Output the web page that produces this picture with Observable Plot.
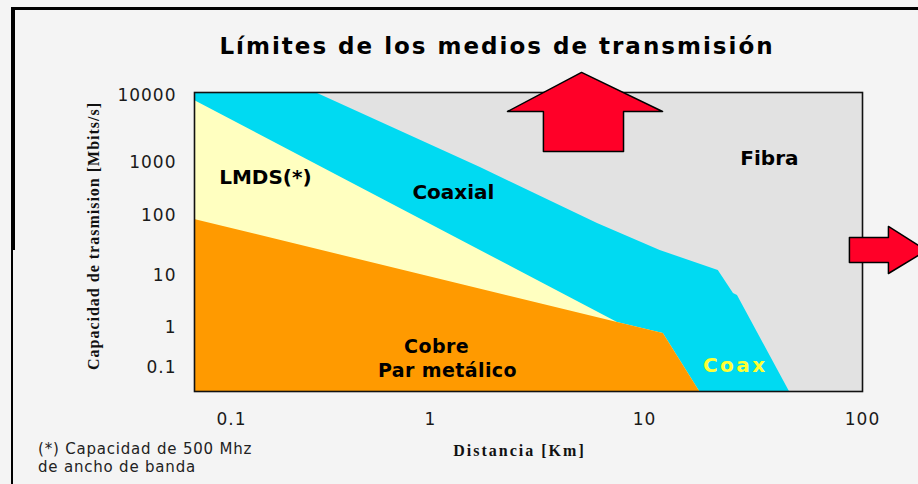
<!DOCTYPE html>
<html>
<head>
<meta charset="utf-8">
<script src="https://cdn.jsdelivr.net/npm/d3@7"></script>
<script src="https://cdn.jsdelivr.net/npm/@observablehq/plot@0.6"></script>
<style>
html,body{margin:0;padding:0;}
body{width:918px;height:484px;background:#f4f4f4;position:relative;overflow:hidden;font-family:"DejaVu Sans",sans-serif;}
#chart{position:absolute;left:0;top:0;}
#frameTop{position:absolute;left:11px;top:7px;right:0;height:3px;background:#000;}
#frameLeft{position:absolute;left:11px;top:7px;width:2px;bottom:0;background:#000;}
#frameLeftThick{position:absolute;left:11px;top:7px;width:4px;height:243px;background:#000;}
#title{position:absolute;left:0;width:994px;top:35px;text-align:center;font-weight:bold;font-size:23px;line-height:23px;letter-spacing:2px;color:#000;font-family:"DejaVu Sans",sans-serif;}
#note{position:absolute;left:38px;top:440px;font-size:15px;line-height:18px;letter-spacing:0.8px;color:#222;font-family:"DejaVu Sans",sans-serif;}
</style>
</head>
<body>
<div id="chart"></div>
<div id="frameTop"></div>
<div id="frameLeft"></div>
<div id="frameLeftThick"></div>
<div id="title">Límites de los medios de transmisión</div>
<div id="note">(*) Capacidad de 500 Mhz<br>de ancho de banda</div>
<script>
// ---- Data (distance in km, capacity in Mbit/s) ----
const xTicks = [0.1, 1, 10, 100];
const xTickLabels = ["0.1", "1", "10", "100"];
const yTicks = [0.1, 1, 10, 100, 1000, 10000];
const yTickLabels = ["0.1", "1", "10", "100", "1000", "10000"];

// Upper limit of coaxial cable
const coaxDist = [0.065, 0.264, 1.71, 6.03, 11.8, 21.8, 25.6, 26.7, 46.2];
const coaxCap  = [11100, 11100, 805, 73.6, 26.1, 12.1, 4.51, 4.12, 0.025];

// Upper limit of LMDS
const lmdsDist = [0.065, 7.48, 12.2, 17.9];
const lmdsCap  = [8410, 1.25, 0.708, 0.025];

// Upper limit of copper pair
const cobreDist = [0.065, 7.48, 12.2, 17.9];
const cobreCap  = [85.8, 1.25, 0.708, 0.025];

// Arrows (Fibra extends upward and to the right)
const upArrowDist = [5.08, 12.1, 7.98, 7.98, 3.37, 3.37, 2.29];
const upArrowCap  = [22300, 5770, 5770, 1460, 1460, 5770, 5770];
const rightArrowDist = [87.1, 131.5, 131.5, 196.7, 131.5, 131.5, 87.1];
const rightArrowCap  = [43.0, 43.0, 65.6, 26.1, 10.8, 16.5, 16.5];

// Region labels
const labelText = ["LMDS(*)", "Coaxial", "Fibra", "Cobre", "Par metálico", "Coax"];
const labelDist = [0.148, 1.28, 37.4, 1.067, 1.2, 26.1];
const labelCap  = [521, 272, 1147, 0.335, 0.084, 0.112];
const labelSize = [20, 20, 20, 19, 19, 20];
const labelColor = ["#000", "#000", "#000", "#000", "#000", "#ffff33"];

// ---- Scale calibration (reference uses unevenly spaced decades) ----
const xDomain = [0.065, 0.1, 1, 10, 100];
const xRange  = [194, 231, 430, 644, 862];
const yDomain = [0.025, 0.1, 1, 10, 100, 1000, 10000, 11100];
const yRange  = [391, 367, 327, 275, 215, 162, 95, 92];
const capFloor = yDomain[0];

const zip = (xs, ys) => xs.map((d, i) => ({d, c: ys[i]}));
const labels = labelText.map((t, i) => ({t, d: labelDist[i], c: labelCap[i], col: labelColor[i], s: labelSize[i]}));
const bigLabels = labels.filter(l => l.s === 20);
const smallLabels = labels.filter(l => l.s !== 20);

const chart = Plot.plot({
  width: 918,
  height: 484,
  marginLeft: 194,
  marginRight: 56,
  marginTop: 92,
  marginBottom: 93,
  style: {background: "transparent", fontFamily: "DejaVu Sans, sans-serif", fontSize: "17px", color: "#1a1a1a"},
  x: {type: "log", domain: xDomain, range: xRange, ticks: xTicks,
      tickFormat: d => xTickLabels[xTicks.indexOf(d)], tickSize: 0, tickPadding: 21, label: null},
  y: {type: "log", domain: yDomain, range: yRange, ticks: yTicks,
      tickFormat: d => yTickLabels[yTicks.indexOf(d)], tickSize: 0, tickPadding: 18, label: null},
  marks: [
    Plot.frame({fill: "#e2e2e2"}),
    Plot.areaY(zip(coaxDist, coaxCap), {x: "d", y1: () => capFloor, y2: "c", fill: "#00daf2", curve: "linear"}),
    Plot.areaY(zip(lmdsDist, lmdsCap), {x: "d", y1: () => capFloor, y2: "c", fill: "#ffffc0", curve: "linear"}),
    Plot.areaY(zip(cobreDist, cobreCap), {x: "d", y1: () => capFloor, y2: "c", fill: "#ff9a00", curve: "linear"}),
    Plot.frame({stroke: "#111", strokeWidth: 1.6}),
    Plot.line(zip(upArrowDist, upArrowCap), {x: "d", y: "c", fill: "#ff0028", stroke: "#000", strokeWidth: 1.5, curve: "linear-closed"}),
    Plot.line(zip(rightArrowDist, rightArrowCap), {x: "d", y: "c", fill: "#ff0028", stroke: "#000", strokeWidth: 1.5, curve: "linear-closed"}),
    Plot.text(bigLabels, {x: "d", y: "c", text: "t", fill: "col", fontFamily: "DejaVu Sans", fontWeight: "bold", fontSize: 20}),
    Plot.text(smallLabels, {x: "d", y: "c", text: "t", fill: "col", fontFamily: "DejaVu Sans", fontWeight: "bold", fontSize: 19}),
    Plot.text(["Capacidad de trasmision [Mbits/s]"], {frameAnchor: "left", textAnchor: "middle", lineAnchor: "middle",
      rotate: -90, dx: -101, dy: -6,
      fontFamily: "Liberation Serif", fontWeight: "bold", fontSize: 16, fill: "#111"}),
    Plot.text(["Distancia [Km]"], {frameAnchor: "bottom", textAnchor: "middle", lineAnchor: "middle", dx: -9, dy: 59,
      fontFamily: "Liberation Serif", fontWeight: "bold", fontSize: 16, fill: "#111"})
  ]
});

// typographic spacing to match the reference's wide lettering
d3.select(chart).selectAll("text").each(function () {
  const t = this.textContent;
  if (t === "Coax") this.style.letterSpacing = "2.5px";
  else if (t === "Capacidad de trasmision [Mbits/s]") this.style.letterSpacing = "1px";
  else if (t === "Distancia [Km]") this.style.letterSpacing = "2px";
  else if (t === "Cobre" || t === "Par metálico") this.style.letterSpacing = "0.4px";
  else if (xTickLabels.includes(t) || yTickLabels.includes(t)) this.style.letterSpacing = "1px";
});

document.getElementById("chart").appendChild(chart);
</script>
</body>
</html>
